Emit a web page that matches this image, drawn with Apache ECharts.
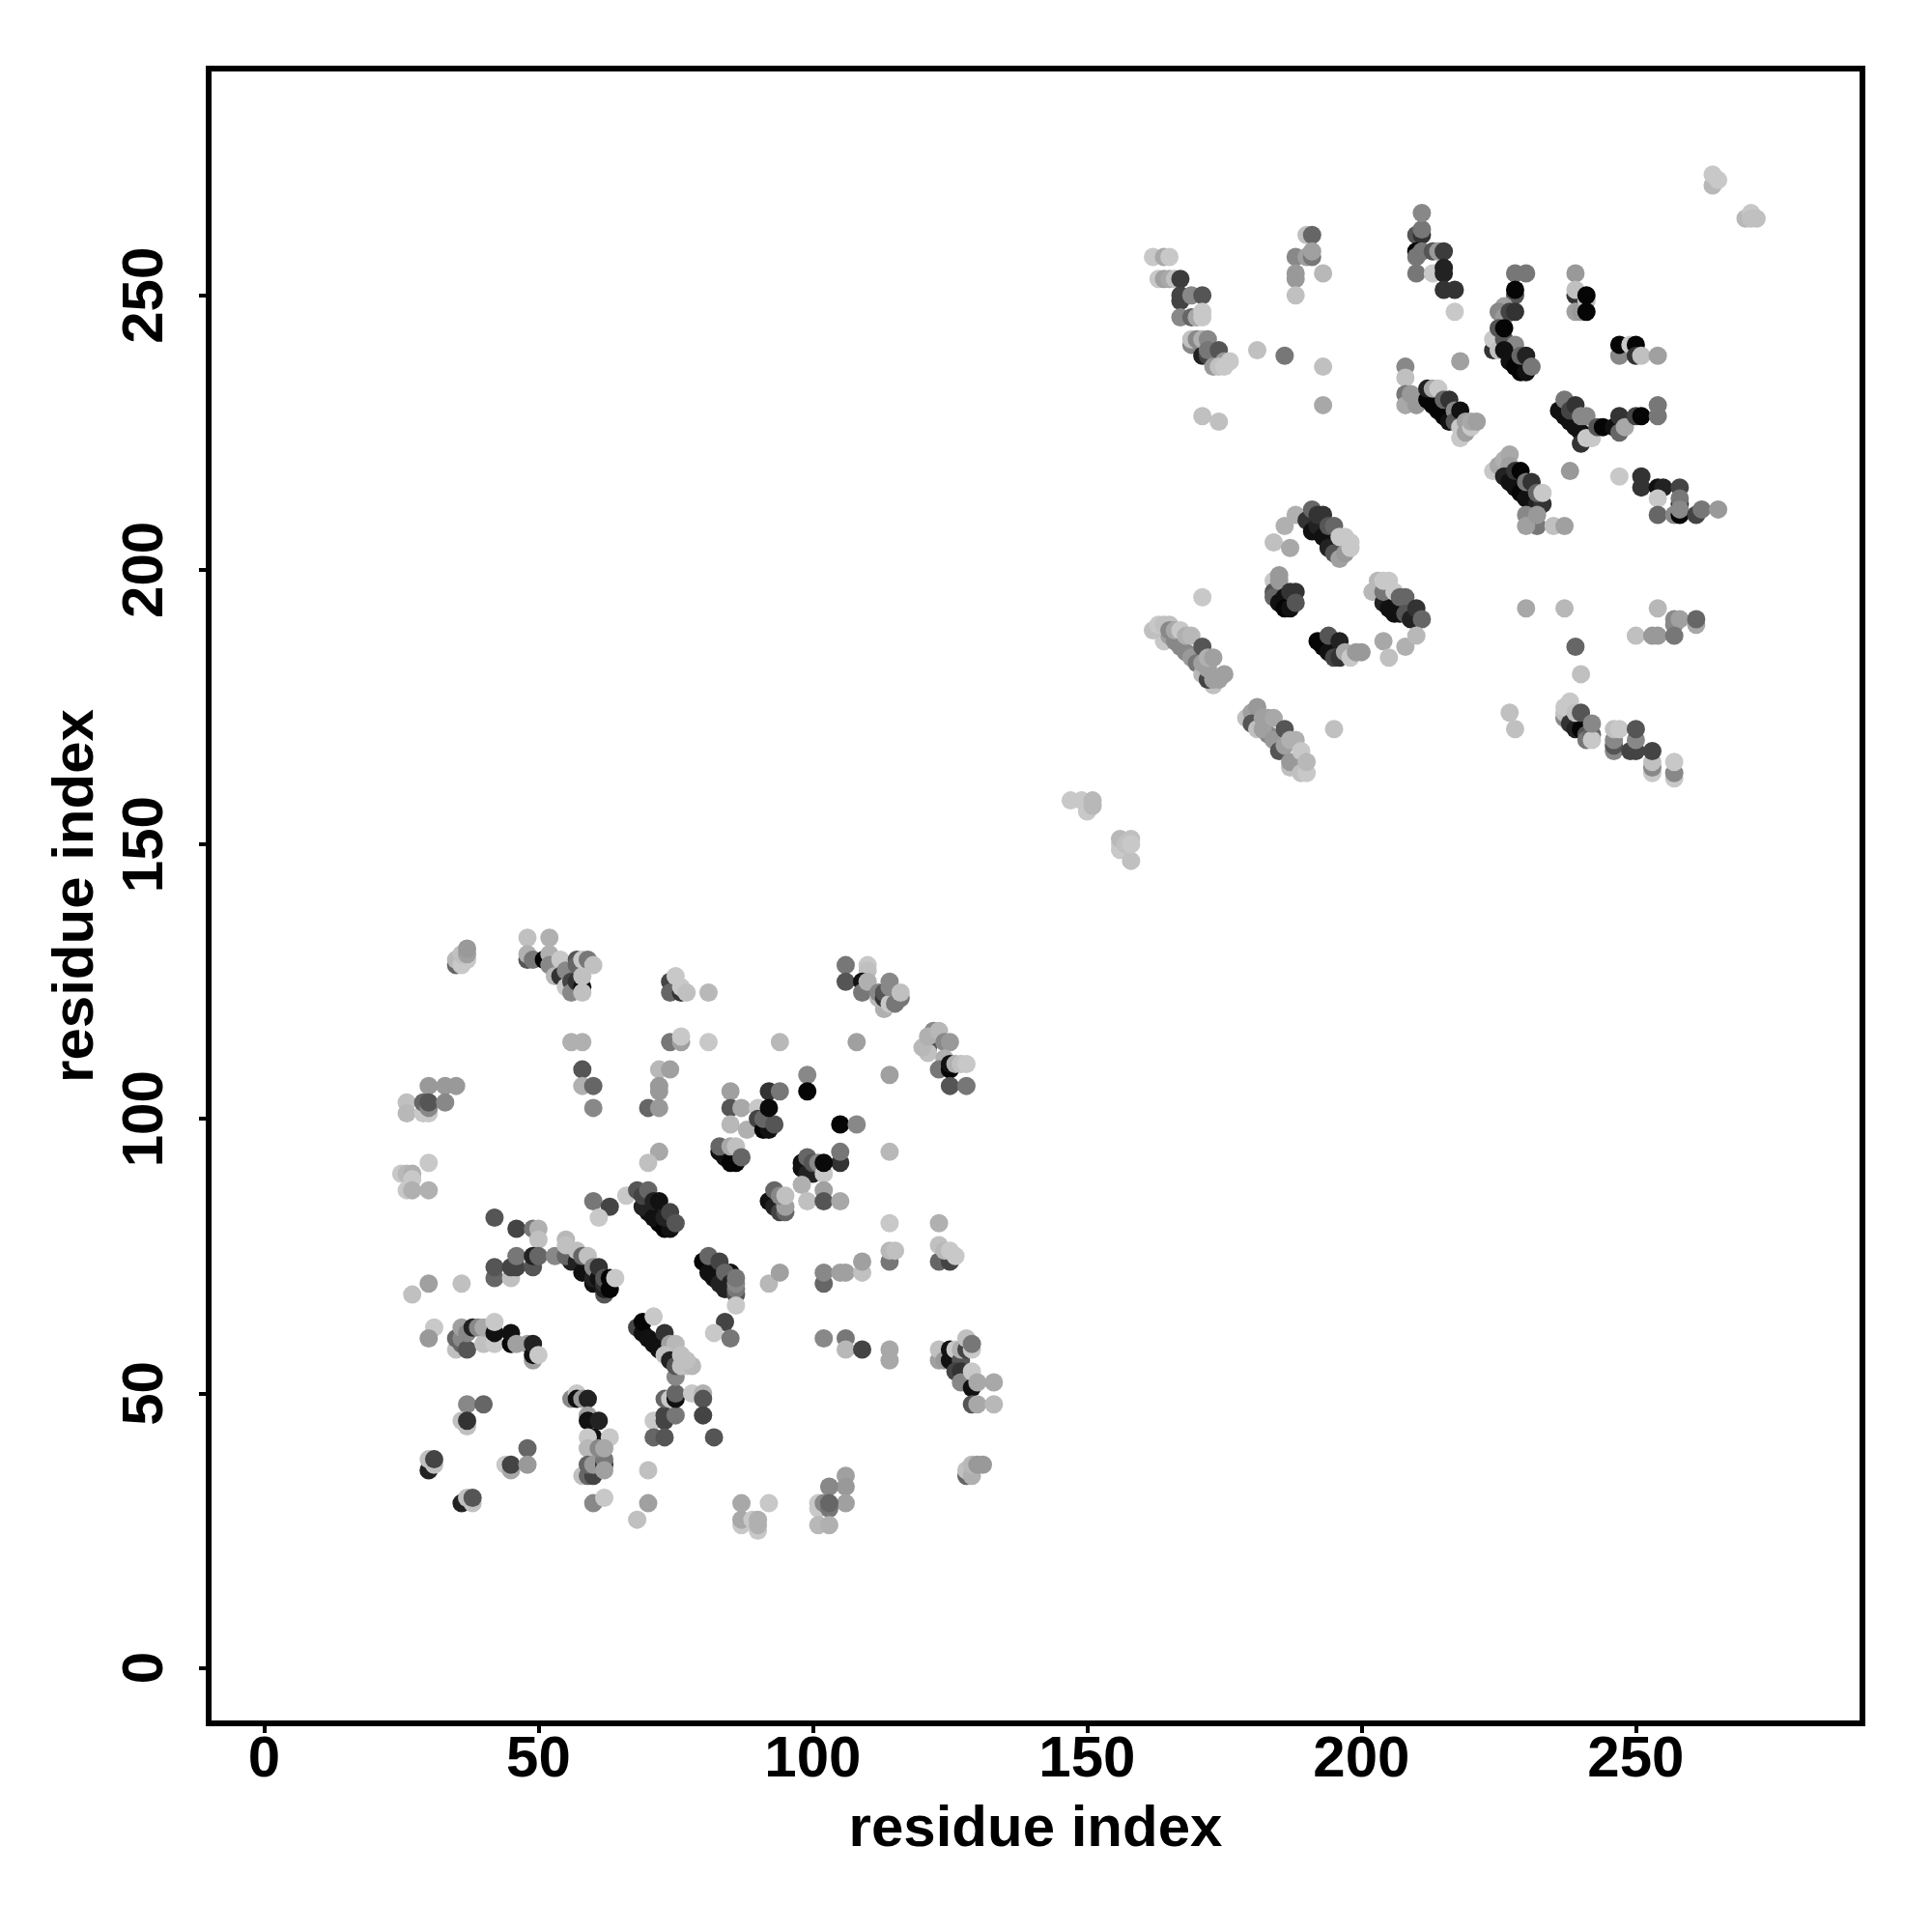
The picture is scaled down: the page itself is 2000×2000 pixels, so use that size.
<!DOCTYPE html>
<html><head><meta charset="utf-8">
<script src="https://cdn.jsdelivr.net/npm/echarts@6/dist/echarts.min.js"></script>
<style>html,body{margin:0;padding:0;background:#fff}#c{width:2000px;height:2000px}</style></head>
<body><div id="c"></div>
<script>
// each contact: [residue x, residue y, grey level]
const xTicks=[0,50,100,150,200,250];
const yTicks=[0,50,100,150,200,250];
const axisName="residue index";
const a1=[[35,128,102],[35,129,184],[36,128,200],[37,129,200],[36,130,192],[37,130,160],[37,131,153],
[48,133,192],[52,133,176],[48,129,85],[48,130,176],[49,129,119],[51,129,5],[52,130,176],[52,128,136],[54,129,200],[53,126,184],[54,126,51],[55,127,136],[55,124,200],[56,125,68],[56,123,136],[57,125,51],[58,124,17],[58,123,192],[57,129,85],[57,128,102],[58,126,192],[58,129,200],[59,129,119],[60,128,192],
[74,125,68],[74,123,102],[76,123,51],[75,126,200],[76,124,200],[77,123,192],[81,123,184],
[56,114,176],[58,114,176],[58,109,85],[58,106,176],[60,106,102],[60,102,136],
[74,114,119],[76,114,160],[76,115,200],[81,114,200],[94,114,184],[108,114,160],
[72,109,184],[74,109,160],[72,106,153],[72,105,153],[70,102,102],[72,102,153]];
const a2=[[30,106,153],[33,106,153],[35,106,153],[26,103,192],[26,101,184],[29,101,200],[30,101,200],[29,103,102],[30,102,136],[30,103,85],[33,103,136],
[30,92,200],[25,90,200],[26,90,184],[27,90,176],[27,89,200],[26,87,200],[27,87,176],[30,87,176],
[72,94,168],[70,92,192],[60,85,119],[63,84,68],[61,82,200],[66,86,200],
[70,83,17],[69,84,34],[72,81,5],[71,82,17],[73,80,5],[74,80,17],[73,82,34],[68,87,85],[69,86,68],[70,87,102],[71,85,34],[72,85,17],[74,83,68],[75,81,85],
[42,82,85],[46,80,68],[49,80,119],[50,80,176],[50,78,192],[55,78,184]];
const a3=[[110,128,200],[110,127,192],[106,128,119],[106,125,85],[109,125,17],[109,123,119],[110,125,176],[113,120,176],[112,122,184],[112,123,136],[113,122,51],[113,123,85],[114,121,200],[115,121,119],[114,125,136],[114,124,136],[116,122,119],[116,123,192],
[114,108,160],[99,108,136],[99,105,5],
[85,105,160],[92,105,51],[94,105,119],[85,102,85],[87,102,168],[90,102,200],[85,99,184],[88,98,176],[90,100,68],[91,98,5],[92,98,17],[91,100,102],[93,99,85],[92,102,10],
[105,99,5],[108,99,136],[114,94,184]];
const a4=[[83,94,17],[84,93,17],[85,92,5],[86,92,5],[83,95,102],[85,95,168],[86,95,192],[87,93,102],
[98,92,17],[98,91,17],[99,90,34],[99,93,102],[100,90,34],[100,92,85],[101,92,136],[102,90,200],[105,92,51],[105,94,119],[102,92,10],
[98,88,176],[102,87,160],[99,85,192],[102,85,85],[105,85,168],
[92,85,17],[93,84,34],[93,87,102],[94,83,68],[95,83,102],[95,84,160],[94,86,136],[95,86,192],
[114,81,200],[123,81,176],[114,74,119],[114,76,184],[115,76,192],
[123,74,102],[125,74,68],[123,77,192],[124,76,184],[125,76,200],[126,75,200],
[122,116,136],[121,113,85],[121,112,192],[120,113,184],[121,115,176],[123,116,184],[124,114,136],[125,114,153],[124,111,176],[123,109,119],[125,109,5],[125,110,17],[126,110,176],[127,110,192],[128,110,200],[125,106,85],[128,106,119]];
const a5=[[27,68,192],[30,70,160],[36,70,192],[42,71,102],[42,73,85],[45,71,192],[45,73,68],[46,73,68],[46,75,119],[49,74,200],[49,73,85],[49,75,34],[50,75,102],[53,75,136],
[56,74,34],[55,75,102],[55,77,192],[57,74,34],[57,76,192],[58,72,17],[59,73,17],[58,75,102],[59,75,192],[60,70,17],[60,71,34],[60,73,136],[61,71,17],[61,73,51],[62,68,85],[62,69,34],[62,70,51],[62,71,85],[63,69,5],[63,71,5],[64,71,200],
[31,62,200],[30,60,153],[35,58,192],[35,60,102],[36,59,102],[36,60,136],[36,62,160],[37,58,85],[37,61,136],[38,62,34],[39,62,136],[40,59,192],[40,62,168],[42,59,200],[42,61,17],[42,63,200],[45,59,5],[45,61,17],[46,59,160],[48,59,160],[49,56,160],[49,57,17],[49,59,34],[50,57,200],
[37,48,136],[40,48,102],[36,45,192],[37,44,192],[37,45,51],
[30,36,34],[30,38,192],[31,37,192],[31,38,68],
[44,37,200],[45,36,168],[45,37,68],[48,40,102],[48,37,153],
[36,30,34],[37,31,192],[38,30,192],[38,31,85]];
const a6=[[56,49,136],[57,50,200],[57,49,17],[58,49,153],[59,49,34],[59,46,160],[59,45,17],[61,45,34],[60,42,17],[59,42,200],[63,42,200],
[59,40,184],[58,35,192],[59,35,102],[60,35,68],[59,37,102],[60,37,153],[62,37,51],[62,38,119],[62,36,160],[61,40,136],[62,40,168],
[60,30,136],[62,31,200],[70,36,192],[70,30,160],[68,27,192],
[71,45,200],[73,45,68],[73,46,68],[75,46,119],[71,42,102],[73,42,85],
[73,49,102],[74,49,200],[75,49,17],[75,50,102],[78,50,200],[75,53,136],
[68,62,68],[69,61,17],[69,63,5],[71,64,200],[70,60,17],[71,59,17],[73,61,51],[72,58,17],[74,59,160],[75,59,184],[73,57,192],[74,56,34],[75,55,85],[76,57,192],[76,55,192],[77,55,192],[78,55,184],[77,56,192]];
const a7=[[80,50,176],[80,49,85],[80,46,68],[82,42,85],
[80,74,5],[81,72,17],[82,71,17],[83,70,34],[84,69,34],[81,75,102],[83,74,68],[85,72,17],[84,72,102],[85,70,34],[86,68,85],[86,69,119],[86,70,136],[86,71,119],[86,66,200],
[84,63,68],[82,61,200],[85,60,119],[92,70,184],[94,72,160],
[102,70,102],[102,72,136],[105,72,160],[106,72,160],[109,72,192],[109,74,160],
[102,60,136],[106,60,119],[106,58,184],[109,58,68],[114,58,168],[114,56,168]];
const a8=[[123,56,160],[123,58,192],[124,56,153],[125,58,17],[125,56,17],[126,58,200],[127,56,85],[127,58,176],[126,54,68],[127,54,51],[127,52,136],[128,58,68],[128,60,192],[129,58,200],[129,59,119],[129,51,17],[129,54,200],[130,52,168],[133,52,168],
[129,48,85],[130,48,168],[133,48,184],
[128,35,102],[128,36,192],[129,35,176],[129,37,184],[130,37,153],[131,37,153],
[106,35,160],[106,33,153],[103,33,136],[106,30,160],[101,30,200],[101,29,200],[102,30,136],[103,29,119],[103,30,102],[101,26,184],[103,26,176],
[87,30,168],[92,30,200],[87,26,200],[87,27,168],[89,27,200],[90,25,200],[90,26,176],[90,27,176]];
const b1=[[162,257,200],[164,257,168],[165,257,200],[163,253,200],[164,253,160],[165,253,168],[166,253,192],[167,253,60],[167,249,68],[167,250,68],[169,250,136],[171,250,85],
[167,246,136],[169,246,102],[170,246,168],[171,247,200],[171,246,200],
[169,241,136],[169,242,192],[170,242,136],[171,239,34],[171,242,176],[172,239,68],[172,242,136],[172,240,119],[174,240,85],[173,237,153],[175,238,153],[174,237,192],[175,237,200],[176,238,200],
[181,240,192],[186,239,119],[193,237,192],[193,230,168],[171,228,192],[174,227,192],
[190,261,192],[191,261,102],[188,257,136],[190,257,160],[191,257,119],[191,258,160],[188,254,153],[188,253,153],[193,254,184],[188,250,192],
[210,261,85],[211,261,51],[211,262,119],[211,265,136],[210,258,5],[210,257,119],[211,258,119],[213,258,85],[214,258,153],[215,258,60],[210,254,119],[213,254,200],[215,255,34],[215,254,34],[215,251,51],[217,251,51],[217,247,200],[218,238,160]];
const b2=[[208,237,136],[208,235,192],[208,232,119],[208,230,168],[210,230,153],[209,232,153],[212,231,5],[213,230,5],[214,229,5],[215,228,5],[216,227,17],[212,233,34],[213,233,168],[214,233,200],[215,231,102],[216,231,51],[217,229,136],[217,227,85],[218,229,17],
[218,224,200],[218,226,200],[219,225,160],[219,227,160],[220,226,200],[220,227,168],[221,227,160],
[264,270,184],[264,272,200],[265,271,200],[270,264,184],[271,265,200],[271,264,192],[272,264,192],
[228,254,119],[230,254,119],[228,250,85],[228,251,5],[226,248,160],[225,247,136],[226,246,153],[227,247,68],[228,247,51],
[224,240,51],[224,242,200],[225,240,192],[225,244,85],[226,242,85],[226,244,5],[228,241,136],[226,240,17],[227,238,17],[228,237,5],[229,236,5],[230,236,17],[229,239,102],[230,239,34],[231,237,119],
[239,254,153],[239,250,51],[239,251,192],[239,247,160],[240,247,153],[241,249,192],[241,250,5],[241,247,5],
[247,239,136],[247,241,5],[249,241,200],[250,241,5],[250,239,51],[251,239,192],[254,239,160]];
const b3=[[236,229,17],[237,228,17],[238,227,17],[239,226,17],[240,225,17],[237,231,119],[238,229,68],[239,230,51],[240,223,51],[240,228,136],[241,228,136],[241,224,200],[242,224,200],[243,226,85],[244,226,5],[246,226,17],[247,225,102],[247,228,51],[248,226,168],[250,228,68],[251,228,5],[254,228,119],[254,230,119],
[224,218,200],[225,219,168],[226,220,176],[227,221,168],[227,219,160],[226,217,34],[227,216,17],[228,215,17],[229,214,5],[230,213,17],[231,212,17],[228,218,51],[229,218,5],[230,216,119],[231,216,51],[232,212,34],[233,212,51],[232,214,102],[233,214,200],
[230,210,136],[232,208,119],[230,208,160],[232,210,153],[235,208,192],[237,208,160],[238,218,153],[247,217,200],
[251,217,51],[251,215,51],[254,215,17],[255,215,34],[258,215,68],[254,213,200],[258,212,51],[258,213,119],[254,210,102],[257,210,136],[258,210,5],[258,211,136],[261,210,68],[262,211,119],[265,211,153],
[230,193,168],[237,193,184],[254,193,184],[257,190,136],[257,191,136],[258,191,160],[261,190,168],[261,191,102],[250,188,192],[253,188,153],[254,188,153],[257,188,119],
[239,186,102],[240,181,192],[227,174,192],[228,171,192]];
const b4=[[237,173,136],[237,174,192],[237,175,200],[238,176,200],[238,172,51],[239,171,34],[240,171,5],[239,174,192],[240,174,85],[241,170,85],[241,169,119],[242,170,102],[242,169,200],[242,172,136],
[246,167,136],[246,168,85],[246,169,136],[246,171,192],[247,171,200],[250,167,68],[249,167,68],[250,169,136],[250,171,85],
[253,163,200],[253,164,136],[253,165,192],[253,167,68],[257,162,200],[257,163,136],[257,165,200],
[188,210,176],[186,208,176],[184,205,192],[187,204,168],
[190,209,51],[191,207,17],[192,208,34],[193,206,17],[194,205,17],[194,204,34],[191,211,102],[192,210,51],[193,210,51],[194,208,85],[195,203,85],[195,208,102],[196,202,160],[197,203,153],[196,206,200],[197,206,200],[198,205,200],[198,204,200],
[184,198,200],[184,196,85],[184,195,102],[185,199,153],[185,198,153],[185,194,17],[186,195,17],[186,193,5],[187,193,17],[187,196,51],[188,196,51],[188,194,85],
[192,187,5],[193,186,5],[194,185,17],[194,188,85],[196,187,34],[195,184,68],[196,184,51],[197,185,168],[198,184,200],[199,185,153],[200,185,153],[195,171,192],[171,195,200]];
const b5=[[202,196,184],[203,198,184],[204,194,34],[205,193,17],[206,192,17],[207,192,17],[204,196,119],[204,198,200],[205,198,200],[206,196,200],[207,195,102],[208,195,102],[208,192,85],[209,191,34],[210,193,51],[211,191,102],
[204,187,168],[208,186,176],[210,188,184],[205,184,192],
[147,158,200],[149,158,200],[150,156,200],[150,157,200],[151,157,184],[151,158,184],
[156,149,200],[156,150,200],[156,151,184],[157,150,192],[158,151,192],[158,147,192],[158,150,200]];
const b6=[[164,187,200],[165,188,160],[162,189,192],[163,190,200],[164,190,192],[165,190,192],[165,189,136],[166,187,136],[166,189,168],[167,186,136],[167,189,200],[168,185,136],[168,188,176],[169,184,153],[169,188,184],[170,183,119],[171,186,85],[171,181,184],[171,183,160],[173,179,192],[172,180,68],[172,182,160],[172,184,176],[173,184,160],[173,180,160],[174,180,160],[175,181,160],
[179,173,192],[180,174,160],[181,175,153],[180,172,85],[181,171,192],[182,173,160],[183,170,136],[182,171,160],[184,169,153],[183,173,160],[184,173,168],[186,171,85],[185,167,85],[186,168,160],[187,164,192],[187,165,153],[187,169,176],[188,169,176],[188,165,153],[189,167,200],[189,163,192],[190,163,200],[190,165,184]];
const contacts=[a1,a2,a3,a4,a5,a6,a7,a8,b1,b2,b3,b4,b5,b6].flat();
const chart=echarts.init(document.getElementById('c'),null,{renderer:'canvas'});
const font='"Liberation Sans",Arial,Helvetica,sans-serif';
function axis(ticks,gap,margin,rot){return {type:'value',min:-10.1,max:291.3,name:axisName,nameLocation:'middle',nameGap:gap,
 nameTextStyle:{fontFamily:font,fontWeight:'bold',fontSize:60,color:'#000'},
 splitLine:{show:false},axisLine:{show:false,onZero:false},
 axisTick:{show:true,length:10,inside:false,lineStyle:{color:'#000',width:4},customValues:ticks},
 axisLabel:{show:true,margin:margin,rotate:rot,fontFamily:font,fontWeight:'bold',fontSize:60,color:'#000',customValues:ticks,showMinLabel:true,showMaxLabel:true,hideOverlap:false}};}
chart.setOption({animation:false,backgroundColor:'#fff',
 grid:{left:216,top:71,width:1712,height:1713,show:true,borderWidth:6,borderColor:'#000',backgroundColor:'transparent'},
 xAxis:axis(xTicks,80,8,0),yAxis:axis(yTicks,107,35,90),
 series:[{type:'scatter',symbol:'circle',symbolSize:19,silent:true,clip:false,large:false,
  data:contacts.map(c=>({value:[c[0],c[1]],itemStyle:{color:`rgb(${c[2]},${c[2]},${c[2]})`,opacity:1}}))}]});
</script></body></html>
